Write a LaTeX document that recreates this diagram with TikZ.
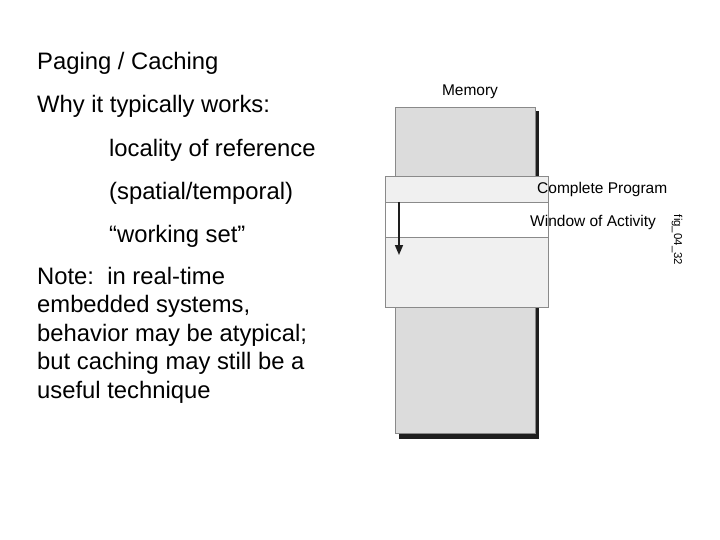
\documentclass[tikz,border=0pt]{standalone}
\usepackage{fontspec}
\setmainfont{Liberation Sans}
\usetikzlibrary{arrows.meta}

\definecolor{memfill}{HTML}{DCDCDC}
\definecolor{progfill}{HTML}{F0F0F0}
\definecolor{boxedge}{HTML}{8A8A8A}
\definecolor{shade}{HTML}{1E1E1E}

\newcommand{\slidefont}{\fontsize{23.8}{28.4}\selectfont}
\tikzset{
  slide/.style={anchor=base west, inner sep=0pt, font=\slidefont},
  fig/.style={inner sep=0pt, font=\fontsize{15.5}{18}\selectfont},
  block/.style={draw=boxedge, line width=.8pt, inner sep=0pt}
}

\begin{document}
\begin{tikzpicture}[x=1pt, y=-1pt]
\useasboundingbox [fill=white] (0,0) rectangle (720,540);

% left column
\path (37,70) node [slide] (title) {Paging / Caching};
\path (37,113) node [slide] (why) {Why it typically works:};
\path (109,157) node [slide] (locality) {locality of reference};
\path (109,200) node [slide] (spatial) {(spatial/temporal)};
\path (109,243) node [slide] (workset) {``working set''};
% parbox[b]: base is the last line
\path (37,398) node [slide] (note)
  {\parbox[b]{290pt}{\raggedright\slidefont
   Note:\ \ in real-time\\embedded systems,\\behavior may be atypical;\\but caching may still be a\\useful technique}};

% memory with its shadow
\path [fill=shade] (399,111) rectangle (539,439);
\path [block, fill=memfill] (395,107) rectangle (535,433);
\path (470,92) node [fig] (memory) {Memory};

% program and window
\path [block, fill=progfill] (385,176) rectangle (548,307);
\path [block, fill=white] (385,202) rectangle (548,237);
\coordinate (scan top) at (399,202);
\coordinate (scan tip) at (399,255);
\path [draw=shade, line width=1.6pt, -{Triangle[length=10pt, width=8pt]}] (scan top) -- (scan tip);

\path (537,189) node [fig, anchor=west] (program) {Complete Program};
\path (530,222) node [fig, anchor=west] (window) {Window of Activity};
\path (677,240) node [inner sep=0pt, rotate=-90, font=\fontsize{11.4}{13}\selectfont] (figno) {fig\_04\_32};
\end{tikzpicture}
\end{document}
